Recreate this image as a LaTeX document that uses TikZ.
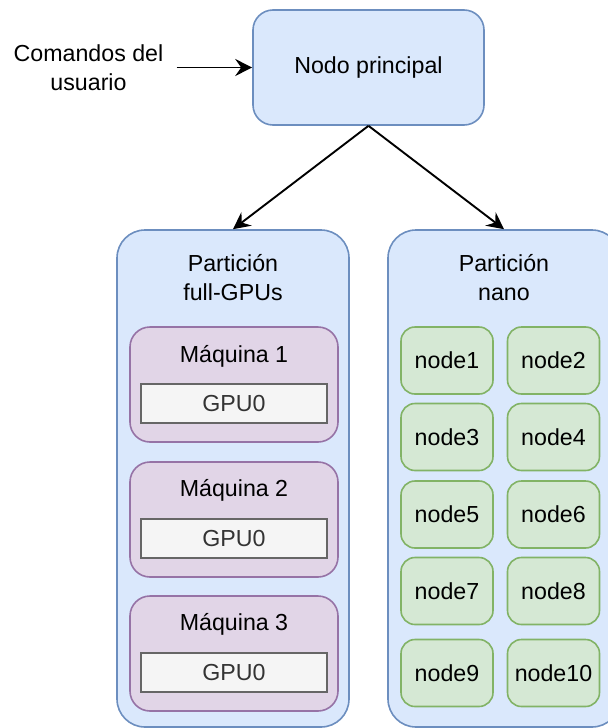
\documentclass[tikz,border=0pt]{standalone}
\usepackage{fontspec}
\setmainfont{Liberation Sans}
\usetikzlibrary{arrows.meta}
\definecolor{bluefill}{HTML}{DAE8FC}
\definecolor{blueline}{HTML}{6C8EBF}
\definecolor{purplefill}{HTML}{E1D5E7}
\definecolor{purpleline}{HTML}{9673A6}
\definecolor{greenfill}{HTML}{D5E8D4}
\definecolor{greenline}{HTML}{82B366}
\definecolor{grayfill}{HTML}{F5F5F5}
\definecolor{grayline}{HTML}{666666}
\definecolor{graytext}{HTML}{333333}
\tikzset{
  flecha/.style={line width=0.95pt, -{Stealth[length=8.5pt,width=8.5pt,inset=3pt]}},
  mainbox/.style={draw=blueline, fill=bluefill, line width=0.8pt, rounded corners=10pt,
    minimum width=115.5pt, minimum height=57.5pt},
  partbox/.style={draw=blueline, fill=bluefill, line width=0.8pt, rounded corners=14pt,
    minimum width=116pt, minimum height=248.5pt},
  maqbox/.style={draw=purpleline, fill=purplefill, line width=0.8pt, rounded corners=10pt,
    minimum width=104pt, minimum height=57.5pt},
  gpubox/.style={draw=grayline, fill=grayfill, line width=0.8pt, text=graytext,
    minimum width=93pt, minimum height=19.5pt},
  nanobox/.style={draw=greenline, fill=greenfill, line width=0.8pt, rounded corners=7pt,
    minimum width=46pt, minimum height=33.5pt, inner sep=1pt},
}
\begin{document}
\begin{tikzpicture}[x=0.5pt, y=-0.5pt, font=\fontsize{11.6}{14.5}\selectfont]
  \clip (0,0) rectangle (608,728);
  \node[mainbox] (principal) at (368.5,67.5) {Nodo principal};
  \node[align=center, inner xsep=6.5pt] (usuario) at (88.5,67.5) {Comandos del\\usuario};
  \draw[flecha] (usuario.east) -- (principal.west);

  \node[partbox] (full) at (233,478.5) {};
  \node[partbox] (nano) at (504,478.5) {};
  \draw[flecha] (principal.south) -- (full.north);
  \draw[flecha] (principal.south) -- (nano.north);
  \node[align=center] (fulltitulo) at (233,277.5) {Partición\\full-GPUs};
  \node[align=center] (nanotitulo) at (504,277.5) {Partición\\nano};

  \node[maqbox] (maq1) at (234,384.5) {};
  \node (maq1t) at (234,356) {Máquina 1};
  \node[gpubox] (gpu1) at (234,403.5) {GPU0};
  \node[maqbox] (maq2) at (234,519.5) {};
  \node (maq2t) at (234,490) {Máquina 2};
  \node[gpubox] (gpu2) at (234,538.5) {GPU0};
  \node[maqbox] (maq3) at (234,653.5) {};
  \node (maq3t) at (234,624.5) {Máquina 3};
  \node[gpubox] (gpu3) at (234,672.5) {GPU0};

  \node[nanobox] (node1) at (447,360.5) {node1};
  \node[nanobox] (node2) at (553.5,360.5) {node2};
  \node[nanobox] (node3) at (447,437) {node3};
  \node[nanobox] (node4) at (553.5,437) {node4};
  \node[nanobox] (node5) at (447,514.5) {node5};
  \node[nanobox] (node6) at (553.5,514.5) {node6};
  \node[nanobox] (node7) at (447,591) {node7};
  \node[nanobox] (node8) at (553.5,591) {node8};
  \node[nanobox] (node9) at (447,673) {node9};
  \node[nanobox] (node10) at (553.5,673) {node10};
\end{tikzpicture}
\end{document}
